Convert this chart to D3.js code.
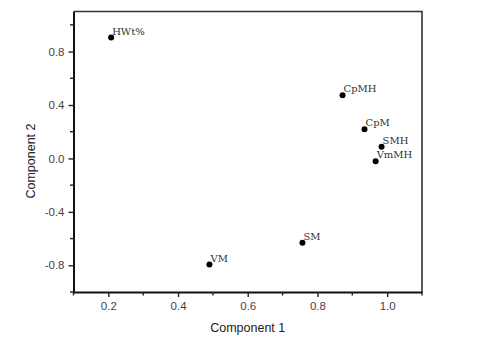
<!DOCTYPE html>
<html>
<head>
<meta charset="utf-8">
<script src="https://cdn.jsdelivr.net/npm/d3@7"></script>
<style>
  body { margin: 0; background: #fff; }
  svg { display: block; }
</style>
</head>
<body>
<script>
// PCA loadings
const labels = ["HWt%", "CpMH", "CpM", "SMH", "VmMH", "SM", "VM"];
const comp1 = [0.208, 0.872, 0.935, 0.984, 0.967, 0.757, 0.490];
const comp2 = [0.905, 0.473, 0.218, 0.088, -0.022, -0.632, -0.795];

const xMajor = [0.2, 0.4, 0.6, 0.8, 1.0];
const xMinor = [0.1, 0.3, 0.5, 0.7, 0.9, 1.1];
const yMajor = [0.8, 0.4, 0.0, -0.4, -0.8];
const yMinor = [1.0, 0.6, 0.2, -0.2, -0.6, -1.0];

const width = 478, height = 337;
const plotLeft = 73.5, plotRight = 422, plotTop = 11.5, plotBottom = 292;

// plain hyphen for negatives, like the original
const fmt = d => d.toFixed(1);

const svg = d3.select("body")
    .append("svg")
    .attr("width", width)
    .attr("height", height);

const x = d3.scaleLinear().domain([0.1, 1.1]).range([plotLeft, plotRight]);
const y = d3.scaleLinear().domain([-1.0, 1.1]).range([plotBottom, plotTop]);

// top and right frame lines
svg.append("path")
    .attr("d", `M${plotLeft},${plotTop}H${plotRight}V${plotBottom}`)
    .attr("fill", "none")
    .attr("stroke", "#333")
    .attr("stroke-width", 1.6);

// x axis: major and minor ticks
const xAxis = svg.append("g").attr("transform", `translate(0,${plotBottom})`);
xAxis.call(d3.axisBottom(x).tickValues(xMajor).tickSize(5).tickSizeOuter(0).tickFormat(fmt));
xAxis.call(g => g.select(".domain").attr("stroke-width", 1.8).attr("stroke", "#111"));
xAxis.selectAll(".tick line").attr("stroke-width", 1.4).attr("stroke", "#222");
xAxis.selectAll(".tick text")
    .attr("font-family", "Liberation Sans, Arial, sans-serif")
    .attr("font-size", 11.5)
    .attr("fill", "#444")
    .attr("dy", "0.85em")
    .attr("y", 8);
xAxis.selectAll(".minor").data(xMinor).enter().append("line")
    .attr("x1", d => x(d)).attr("x2", d => x(d))
    .attr("y1", 0).attr("y2", 3.5)
    .attr("stroke", "#222").attr("stroke-width", 1.4);

// y axis
const yAxis = svg.append("g").attr("transform", `translate(${plotLeft},0)`);
yAxis.call(d3.axisLeft(y).tickValues(yMajor).tickSize(5).tickSizeOuter(0).tickFormat(fmt));
yAxis.call(g => g.select(".domain").attr("stroke-width", 2).attr("stroke", "#111"));
yAxis.selectAll(".tick line").attr("stroke-width", 1.4).attr("stroke", "#222");
yAxis.selectAll(".tick text")
    .attr("font-family", "Liberation Sans, Arial, sans-serif")
    .attr("font-size", 11.5)
    .attr("fill", "#444")
    .attr("x", -9);
yAxis.selectAll(".minor").data(yMinor).enter().append("line")
    .attr("y1", d => y(d)).attr("y2", d => y(d))
    .attr("x1", 0).attr("x2", -3.5)
    .attr("stroke", "#222").attr("stroke-width", 1.4);

// axis titles
svg.append("text")
    .attr("x", (plotLeft + plotRight) / 2)
    .attr("y", 331.5)
    .attr("text-anchor", "middle")
    .attr("font-family", "Liberation Sans, Arial, sans-serif")
    .attr("font-size", 12.5)
    .attr("fill", "#222")
    .text("Component 1");

svg.append("text")
    .attr("transform", "translate(35,161) rotate(-90)")
    .attr("text-anchor", "middle")
    .attr("font-family", "Liberation Sans, Arial, sans-serif")
    .attr("font-size", 12.5)
    .attr("fill", "#222")
    .text("Component 2");

// points with labels
const pts = svg.selectAll("g.pt")
    .data(labels.map((name, i) => ({ name, c1: comp1[i], c2: comp2[i] })))
    .enter()
    .append("g")
    .attr("class", "pt")
    .attr("transform", d => `translate(${x(d.c1)},${y(d.c2)})`);

pts.append("circle")
    .attr("r", 3)
    .attr("fill", "#000");

pts.append("text")
    .attr("x", 1)
    .attr("y", -3)
    .attr("font-family", "DejaVu Serif, serif")
    .attr("font-size", 10)
    .attr("fill", "#333")
    .text(d => d.name);
</script>
</body>
</html>
